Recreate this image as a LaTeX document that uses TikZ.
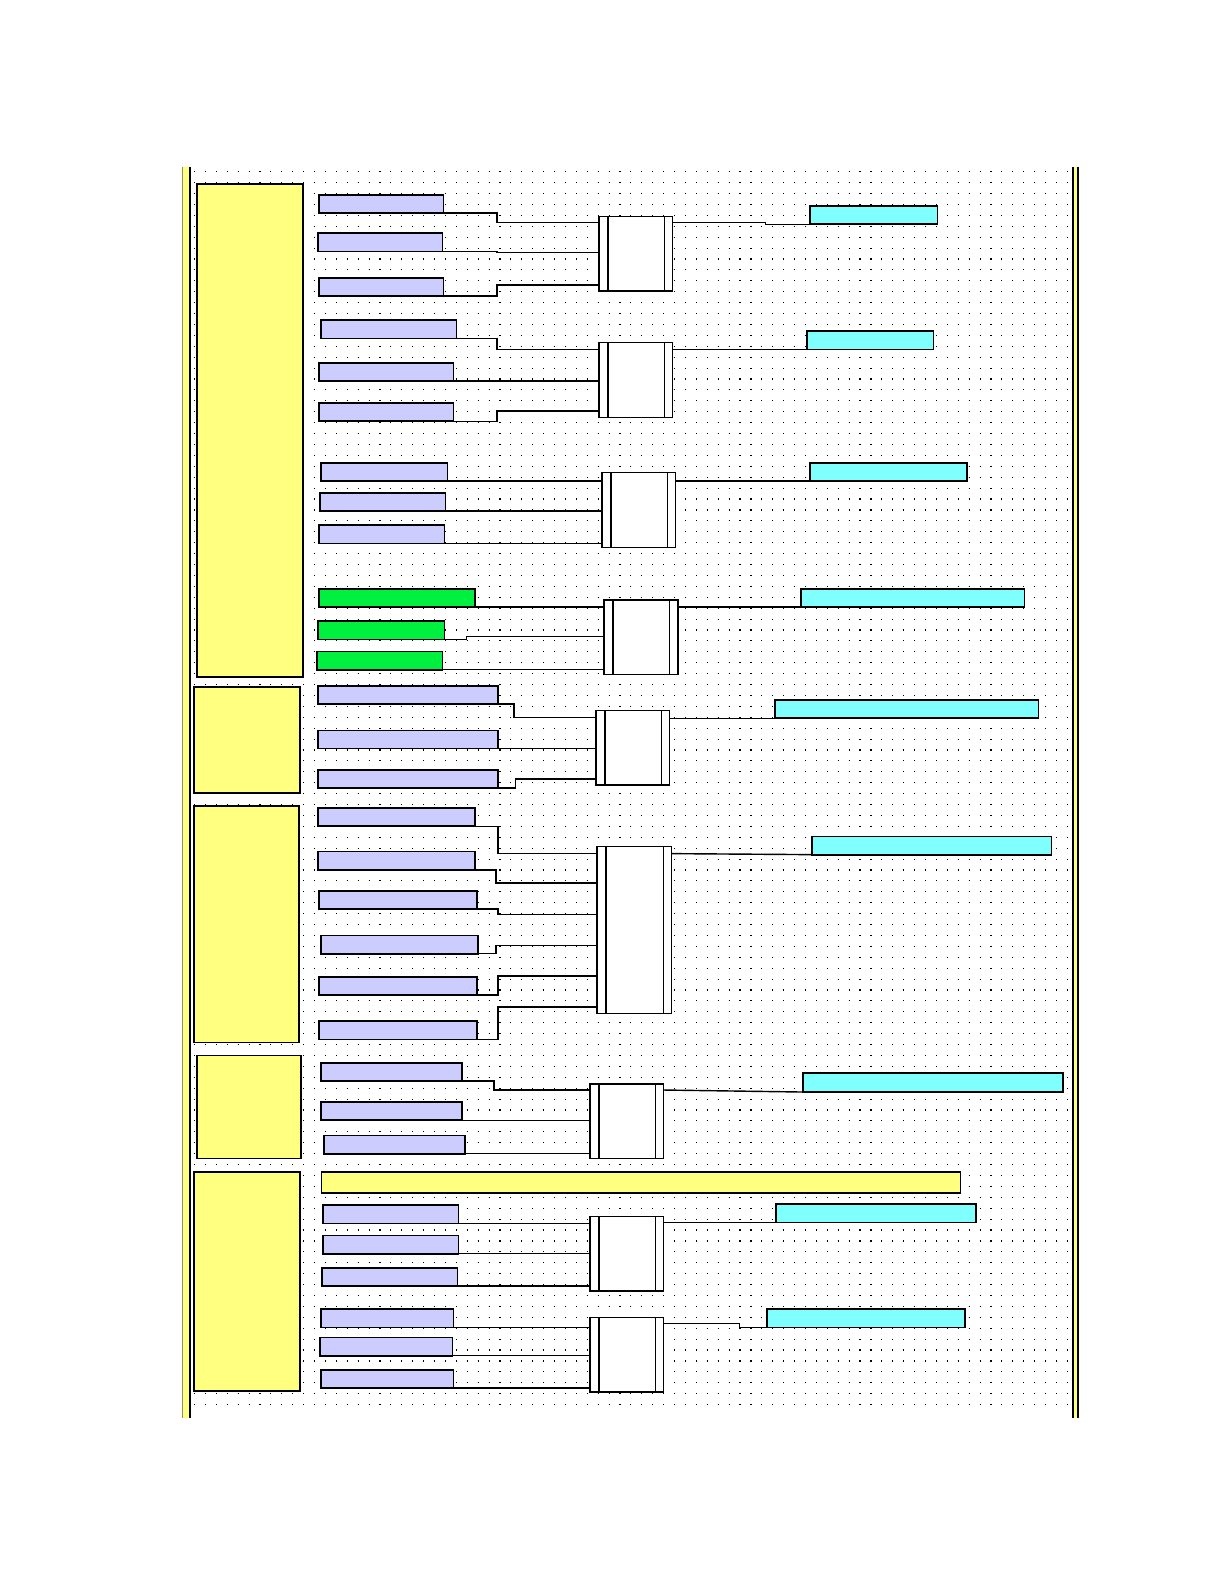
\documentclass[tikz,border=0pt]{standalone}
\usepackage{tikz}

\definecolor{padyellow}{HTML}{FFFF80}
\definecolor{lavender}{HTML}{CCCCFF}
\definecolor{aqua}{HTML}{80FFFF}
\definecolor{brightgreen}{HTML}{00F040}

\tikzset{
  blk/.style={draw, anchor=north west, inner sep=0pt, outer sep=0pt, line width=1.3pt},
  section/.style={blk, fill=padyellow},
  inbox/.style={blk, fill=lavender, line width=1.7pt},
  greenbox/.style={blk, fill=brightgreen, line width=1.7pt},
  outbox/.style={blk, fill=aqua, line width=1.7pt},
  bar/.style={blk, fill=padyellow},
  mux/.style={blk, fill=white,
    path picture={
      \draw[line width=1.8pt] ([xshift=9pt]path picture bounding box.north west) -- ([xshift=9pt]path picture bounding box.south west);
      \draw[line width=1.2pt] ([xshift=-8pt]path picture bounding box.north east) -- ([xshift=-8pt]path picture bounding box.south east);
    }},
  wire/.style={line width=1.4pt},
  dotrow/.style={line width=1.1pt, dash pattern=on 1.1pt off 9.7pt}
}

% box from its corners
\newcommand{\blkat}[6]{\node[#1, minimum width={(#5-#3)*1pt}, minimum height={(#6-#4)*1pt}] (#2) at (#3,#4) {};}

\begin{document}
\begin{tikzpicture}[x=1pt,y=-1pt]
 \useasboundingbox[fill=white] (0,0) rectangle (1212,1568);

 % dotted sheet
 \foreach \r in {0,...,113}
   \draw[dotrow] (192,170+\r*10.8) -- (1060,170+\r*10.8);

 % frame
 \fill[padyellow] (180,165) rectangle (188,1404);
 \draw[gray!70!olive] (180,165) -- (180,1404);
 \draw[line width=1.4pt] (188,165) -- (188,1404);
 \fill[padyellow] (1062,165) rectangle (1067,1404);
 \draw[line width=1.4pt] (1062,165) -- (1062,1404);
 \draw[line width=1.4pt] (1067,165) -- (1067,1404);

 % sections
 \blkat{section}{s1}{195}{182}{300}{670}
 \blkat{section}{s2}{192}{680}{297}{785}
 \blkat{section}{s3}{192}{798}{296}{1032}
 \blkat{section}{s4}{195}{1045}{298}{1147}
 \blkat{section}{s5}{192}{1160}{297}{1377}

 % group 1
 \blkat{inbox}{a1}{316}{193}{439}{211}
 \blkat{inbox}{a2}{315}{231}{438}{249}
 \blkat{inbox}{a3}{316}{275}{439}{293}
 \blkat{mux}{m1}{593}{214}{666}{288}
 \blkat{outbox}{o1}{802}{204}{928}{222}
 \draw[wire] (a1.south east) -- ++(53,0) |- ([yshift=-6pt]m1.north west);
 \draw[wire] (a2.south east) -- ++(54,0) |- ([yshift=-36pt]m1.north west);
 \draw[wire] (a3.south east) -- ++(53,0) |- ([yshift=-68pt]m1.north west);
 \draw[wire] ([yshift=-6pt]m1.north east) -- ++(92,0) |- (o1.south west);

 % group 2
 \blkat{inbox}{b1}{318}{317}{452}{335}
 \blkat{inbox}{b2}{316}{359}{449}{377}
 \blkat{inbox}{b3}{316}{399}{449}{417}
 \blkat{mux}{m2}{593}{339}{666}{413}
 \blkat{outbox}{o2}{799}{328}{924}{346}
 \draw[wire] (b1.south east) -- ++(40,0) |- ([yshift=-7pt]m2.north west);
 \draw[wire] (b2.south east) -- (m2.west |- b2.south east);
 \draw[wire] (b3.south east) -- ++(43,0) |- ([yshift=-68pt]m2.north west);
 \draw[wire] ([yshift=-7pt]m2.north east) -- (o2.south west);

 % group 3
 \blkat{inbox}{c1}{318}{458}{443}{476}
 \blkat{inbox}{c2}{317}{488}{441}{506}
 \blkat{inbox}{c3}{316}{520}{440}{538}
 \blkat{mux}{m3}{596}{468}{669}{542}
 \blkat{outbox}{o3}{802}{458}{957}{476}
 \draw[wire] (c1.south east) -- (m3.west |- c1.south east);
 \draw[wire] (c2.south east) -- (m3.west |- c2.south east);
 \draw[wire] (c3.south east) -- (m3.west |- c3.south east);
 \draw[wire] (m3.east |- o3.south west) -- (o3.south west);

 % group 4
 \blkat{greenbox}{d1}{316}{583}{470}{601}
 \blkat{greenbox}{d2}{315}{615}{440}{633}
 \blkat{greenbox}{d3}{314}{645}{438}{663}
 \blkat{mux}{m4}{598}{594}{671}{668}
 \blkat{outbox}{o4}{793}{583}{1014}{601}
 \draw[wire] (d1.south east) -- (m4.west |- d1.south east);
 \draw[wire] (d2.south east) -- ++(22,0) |- ([yshift=-36pt]m4.north west);
 \draw[wire] (d3.south east) -- (m4.west |- d3.south east);
 \draw[wire] (m4.east |- o4.south west) -- (o4.south west);

 % group 5
 \blkat{inbox}{e1}{315}{679}{493}{697}
 \blkat{inbox}{e2}{315}{723}{493}{741}
 \blkat{inbox}{e3}{315}{762}{493}{780}
 \blkat{mux}{m5}{590}{703}{663}{777}
 \blkat{outbox}{o5}{767}{693}{1028}{711}
 \draw[wire] (e1.south east) -- ++(16,0) |- ([yshift=-7pt]m5.north west);
 \draw[wire] (e2.south east) -- (m5.west |- e2.south east);
 \draw[wire] (e3.south east) -- ++(17,0) |- ([yshift=-68pt]m5.north west);
 \draw[wire] (m5.east |- o5.south west) -- (o5.south west);

 % group 6
 \blkat{inbox}{f1}{315}{800}{470}{818}
 \blkat{inbox}{f2}{315}{843}{470}{861}
 \blkat{inbox}{f3}{316}{882}{472}{900}
 \blkat{inbox}{f4}{318}{926}{473}{944}
 \blkat{inbox}{f5}{316}{967}{472}{985}
 \blkat{inbox}{f6}{316}{1011}{472}{1029}
 \blkat{mux}{m6}{591}{838}{665}{1003}
 \blkat{outbox}{o6}{804}{828}{1041}{846}
 \draw[wire] (f1.south east) -- ++(23,0) |- ([yshift=-7pt]m6.north west);
 \draw[wire] (f2.south east) -- ++(21,0) |- ([yshift=-36pt]m6.north west);
 \draw[wire] (f3.south east) -- ++(21,0) |- ([yshift=-67pt]m6.north west);
 \draw[wire] (f4.south east) -- ++(18,0) |- ([yshift=-98pt]m6.north west);
 \draw[wire] (f5.south east) -- ++(21,0) |- ([yshift=-128pt]m6.north west);
 \draw[wire] (f6.south east) -- ++(21,0) |- ([yshift=-159pt]m6.north west);
 \draw[wire] ([yshift=-7pt]m6.north east) -- (o6.south west);

 % group 7
 \blkat{inbox}{g1}{318}{1052}{457}{1070}
 \blkat{inbox}{g2}{318}{1091}{457}{1109}
 \blkat{inbox}{g3}{321}{1124}{460}{1142}
 \blkat{mux}{m7}{584}{1073}{657}{1147}
 \blkat{outbox}{o7}{795}{1062}{1052}{1081}
 \draw[wire] (g1.south east) -- ++(32,0) |- ([yshift=-6pt]m7.north west);
 \draw[wire] (g2.south east) -- (m7.west |- g2.south east);
 \draw[wire] (g3.south east) -- (m7.west |- g3.south east);
 \draw[wire] ([yshift=-6pt]m7.north east) -- (o7.south west);

 % long bar
 \blkat{bar}{y1}{318}{1160}{951}{1181}

 % group 8
 \blkat{inbox}{h1}{320}{1193}{454}{1211}
 \blkat{inbox}{h2}{320}{1223}{454}{1241}
 \blkat{inbox}{h3}{319}{1255}{453}{1273}
 \blkat{mux}{m8}{584}{1204}{657}{1278}
 \blkat{outbox}{o8}{768}{1192}{966}{1210}
 \draw[wire] (h1.south east) -- (m8.west |- h1.south east);
 \draw[wire] (h2.south east) -- (m8.west |- h2.south east);
 \draw[wire] (h3.south east) -- (m8.west |- h3.south east);
 \draw[wire] (m8.east |- o8.south west) -- (o8.south west);

 % group 9
 \blkat{inbox}{k1}{318}{1296}{449}{1314}
 \blkat{inbox}{k2}{317}{1324}{448}{1342}
 \blkat{inbox}{k3}{318}{1356}{449}{1374}
 \blkat{mux}{m9}{584}{1304}{657}{1378}
 \blkat{outbox}{o9}{759}{1296}{955}{1314}
 \draw[wire] (k1.south east) -- (m9.west |- k1.south east);
 \draw[wire] (k2.south east) -- (m9.west |- k2.south east);
 \draw[wire] (k3.south east) -- (m9.west |- k3.south east);
 \draw[wire] ([yshift=-6pt]m9.north east) -- ++(75,0) |- (o9.south west);
\end{tikzpicture}
\end{document}
